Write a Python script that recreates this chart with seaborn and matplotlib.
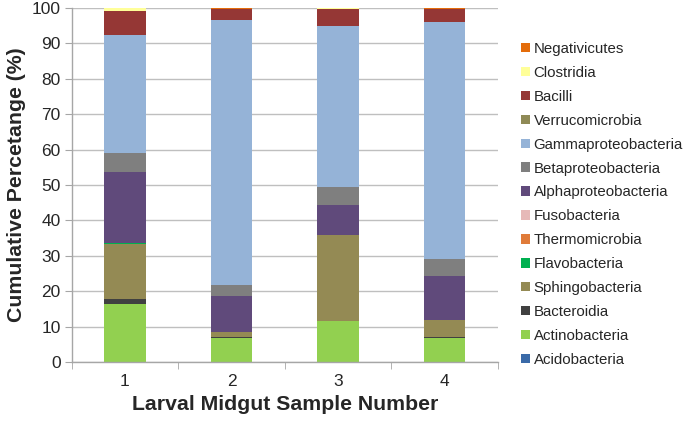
import matplotlib
matplotlib.use("Agg")
import matplotlib.pyplot as plt
import seaborn as sns
import numpy as np
import pandas as pd
from matplotlib.patches import Patch

samples = ["1", "2", "3", "4"]
taxa = ["Acidobacteria", "Actinobacteria", "Bacteroidia", "Sphingobacteria",
        "Flavobacteria", "Thermomicrobia", "Fusobacteria", "Alphaproteobacteria",
        "Betaproteobacteria", "Gammaproteobacteria", "Verrucomicrobia",
        "Bacilli", "Clostridia", "Negativicutes"]

Acidobacteria = [0.0, 0.0, 0.0, 0.0]
Actinobacteria = [16.3, 6.8, 11.5, 6.7]
Bacteroidia = [1.4, 0.4, 0.1, 0.4]
Sphingobacteria = [15.5, 1.4, 24.2, 4.7]
Flavobacteria = [0.3, 0.0, 0.0, 0.0]
Thermomicrobia = [0.0, 0.0, 0.2, 0.0]
Fusobacteria = [0.0, 0.0, 0.0, 0.0]
Alphaproteobacteria = [20.2, 10.1, 8.4, 12.5]
Betaproteobacteria = [5.3, 3.1, 5.1, 4.8]
Gammaproteobacteria = [33.4, 74.8, 45.4, 67.0]
Verrucomicrobia = [0.0, 0.0, 0.0, 0.0]
Bacilli = [6.8, 3.2, 4.9, 3.5]
Clostridia = [0.8, 0.0, 0.2, 0.2]
Negativicutes = [0.0, 0.2, 0.0, 0.2]

values = [Acidobacteria, Actinobacteria, Bacteroidia, Sphingobacteria,
          Flavobacteria, Thermomicrobia, Fusobacteria, Alphaproteobacteria,
          Betaproteobacteria, Gammaproteobacteria, Verrucomicrobia,
          Bacilli, Clostridia, Negativicutes]

colors = ["#3A6AA8", "#92D050", "#404040", "#948A54", "#00B050", "#E07B39",
          "#E6B9B8", "#604A7B", "#7F7F7F", "#95B3D7", "#8F8A56",
          "#953735", "#FFFF99", "#E46C0A"]

sns.set_style("white")
plt.rcParams['font.family'] = ['Liberation Sans', 'DejaVu Sans']

fig = plt.figure(figsize=(6.85, 4.24), dpi=100)
ax = fig.add_axes([71.7 / 685, 1 - 362 / 424, (498 - 71.7) / 685, (362 - 8) / 424])

bottom = np.zeros(len(samples))
for name, vals, col in zip(taxa, values, colors):
    df = pd.DataFrame({"Sample": samples, "Value": vals})
    sns.barplot(data=df, x="Sample", y="Value", order=samples, color=col,
                bottom=bottom, width=0.39, ax=ax, linewidth=0, saturation=1,
                errorbar=None)
    bottom = bottom + np.array(vals)

ax.set_xlim(-0.5, len(samples) - 0.5)
ax.set_ylim(0, 100)
ax.set_yticks(np.arange(0, 101, 10))
ax.yaxis.grid(True, color="#BFBFBF", linewidth=1)
ax.set_axisbelow(True)
for s in ["top", "right"]:
    ax.spines[s].set_visible(False)
for s in ["left", "bottom"]:
    ax.spines[s].set_color("#A6A6A6")
    ax.spines[s].set_linewidth(1)

ax.set_xticks(np.arange(-0.5, len(samples), 1.0), minor=True)
ax.tick_params(axis="x", which="major", length=0, labelsize=12.5, pad=9, colors="#262626")
ax.tick_params(axis="x", which="minor", length=5, color="#A6A6A6", direction="out", bottom=True)
ax.tick_params(axis="y", length=5, color="#A6A6A6", direction="out", labelsize=12.5,
               pad=3, colors="#262626", left=True)
for t in ax.get_xticklabels() + ax.get_yticklabels():
    t.set_color("#262626")

ax.set_xlabel("Larval Midgut Sample Number", fontsize=15.3, fontweight="bold", labelpad=4)
ax.set_ylabel("Cumulative Percetange (%)", fontsize=15.3, fontweight="bold", labelpad=4)

handles = [Patch(facecolor=c, edgecolor="none", label=n) for n, c in zip(taxa, colors)][::-1]
fig.legend(handles=handles, loc="upper left", bbox_to_anchor=(515 / 685, 1 - 36 / 424),
           frameon=False, fontsize=10.8, handlelength=0.6, handleheight=0.6,
           handletextpad=0.25, labelspacing=0.66, borderaxespad=0)

fig.savefig("out.png", dpi=100)
